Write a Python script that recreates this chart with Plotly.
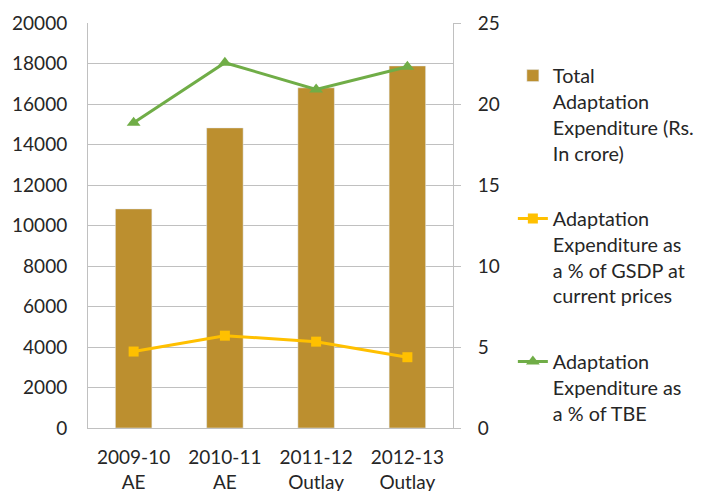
import plotly.graph_objects as go

categories = ["2009-10<br>AE", "2010-11<br>AE", "2011-12<br>Outlay", "2012-13<br>Outlay"]
total_exp = [10820, 14820, 16800, 17880]
pct_gsdp = [4.72, 5.70, 5.33, 4.37]
pct_tbe = [18.85, 22.55, 20.9, 22.3]

names = [
    "Total<br>Adaptation<br>Expenditure (Rs.<br>In crore)",
    "Adaptation<br>Expenditure as<br>a % of GSDP at<br>current prices",
    "Adaptation<br>Expenditure as<br>a % of TBE",
]

fig = go.Figure()
fig.add_trace(go.Bar(x=categories, y=total_exp, name=names[0], marker_color="#BC8F2F",
                     legendgroup="a"))
fig.add_trace(go.Scatter(x=categories, y=pct_gsdp, name=names[1], yaxis="y2", mode="lines+markers",
                         line=dict(color="#FFC000", width=3), marker=dict(symbol="square", size=10),
                         legendgroup="b"))
fig.add_trace(go.Scatter(x=categories, y=pct_tbe, name=names[2], yaxis="y2", mode="lines+markers",
                         line=dict(color="#70AD47", width=3), marker=dict(symbol="triangle-up", size=12),
                         legendgroup="c"))

font = dict(family="Lato, 'Open Sans', sans-serif", size=19, color="#262626")
grid = "#C0C0C0"
fig.update_layout(
    width=694, height=483,
    margin=dict(l=80, r=249, t=15, b=63, autoexpand=False),
    paper_bgcolor="white", plot_bgcolor="white",
    font=font,
    bargap=0.6,
    xaxis=dict(type="category", range=[-0.5, 3.5], showline=True, linecolor=grid, linewidth=1,
               ticks="", tickfont=dict(size=19), automargin=False, ticklabelstandoff=12),
    yaxis=dict(range=[0, 20000], dtick=2000, tickformat="d", showgrid=True, gridcolor=grid, gridwidth=1,
               showline=True, linecolor=grid, ticks="", tickfont=dict(size=19), zeroline=False,
               ticklabelstandoff=16, automargin=False),
    yaxis2=dict(range=[0, 25], dtick=5, overlaying="y", side="right", showgrid=False,
                showline=True, linecolor=grid, ticks="outside", ticklen=7, tickcolor=grid,
                tickfont=dict(size=19), zeroline=False, ticklabelstandoff=13, automargin=False),
    legend=dict(x=1.164, xanchor="left", y=0.918, yanchor="top", valign="top",
                tracegroupgap=37, font=dict(size=19.8), itemwidth=30),
    showlegend=True,
)
fig.write_html("out.html")
